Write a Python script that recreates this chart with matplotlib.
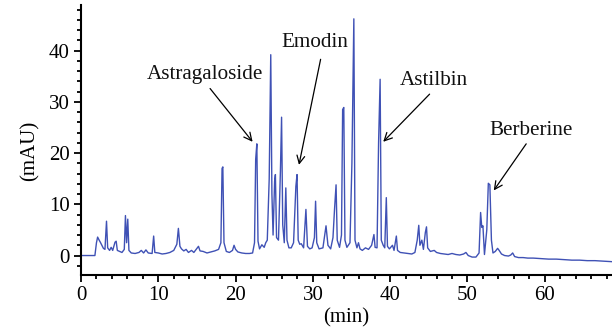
import matplotlib
matplotlib.use("Agg")
import matplotlib.pyplot as plt
from matplotlib.ticker import MultipleLocator

# Chromatogram trace: retention time (min) and signal (mAU)
time_min = [
    0, 1.8, 2.0, 2.15, 2.35, 2.5, 2.7, 2.9, 3.1, 3.3, 3.45, 3.7, 3.9, 4.1, 4.4, 4.55, 4.7,
    5.0, 5.3, 5.6, 5.75, 5.9, 6.05, 6.2, 6.5, 7.0, 7.5, 7.8, 8.1, 8.4, 8.7, 9.2, 9.4, 9.55,
    10.0, 10.5, 11.0, 11.5, 12.0, 12.4, 12.6, 12.8, 13.0, 13.3, 13.6, 13.9, 14.3, 14.6,
    15.2, 15.4, 15.8, 16.3, 16.8, 17.3, 17.8, 18.1, 18.25, 18.35, 18.5, 18.8, 19.2, 19.6,
    19.8, 20.0, 20.3, 20.8, 21.3, 21.8, 22.2, 22.45, 22.6, 22.75, 22.9, 23.1, 23.4, 23.7,
    23.9, 24.1, 24.35, 24.55, 24.7, 24.85, 25.05, 25.15, 25.3, 25.55, 25.8, 25.95, 26.1,
    26.3, 26.5, 26.65, 26.9, 27.2, 27.5, 27.8, 27.95, 28.1, 28.3, 28.5, 28.8, 29.1, 29.3,
    29.6, 29.9, 30.2, 30.35, 30.5, 30.8, 31.3, 31.7, 31.95, 32.3, 32.6, 32.8, 33.0, 33.15,
    33.45, 33.7, 33.85, 34.0, 34.15, 34.4, 34.8, 35.05, 35.3, 35.45, 35.7, 35.9, 36.1,
    36.4, 36.8, 37.2, 37.6, 37.9, 38.05, 38.3, 38.5, 38.7, 38.85, 39.1, 39.3, 39.5, 39.65,
    39.9, 40.3, 40.5, 40.8, 40.95, 41.3, 41.8, 42.3, 42.8, 43.2, 43.5, 43.7, 43.85, 44.1,
    44.3, 44.55, 44.7, 44.85, 45.2, 45.7, 46.0, 46.5, 47.0, 47.5, 48.0, 48.5, 49.0, 49.5,
    49.8, 50.1, 50.6, 51.1, 51.5, 51.7, 51.85, 52.0, 52.2, 52.5, 52.7, 52.9, 53.1, 53.3,
    53.6, 53.9, 54.1, 54.4, 54.8, 55.3, 55.6, 55.85, 56.1, 56.6, 57.2, 57.8, 58.5, 59.5,
    60.5, 61.5, 62.5, 63.5, 64.5, 65.5, 66.5, 67.5, 68.7,
]
signal_mau = [
    0, 0, 2.5, 3.6, 3.0, 2.6, 2.0, 1.4, 1.2, 6.7, 1.5, 1.0, 1.6, 1.0, 2.6, 2.8, 1.0,
    0.8, 0.6, 1.2, 7.8, 2.5, 7.1, 1.0, 0.5, 0.4, 0.6, 1.0, 0.5, 1.1, 0.5, 0.4, 3.8, 0.6,
    0.5, 0.3, 0.4, 0.6, 1.0, 2.2, 5.3, 1.8, 1.3, 0.9, 1.2, 0.6, 1.0, 0.6,
    1.8, 0.9, 0.8, 0.5, 0.7, 0.9, 1.2, 2.5, 17.0, 17.3, 2.5, 0.8, 0.6, 1.0,
    2.0, 1.2, 0.7, 0.5, 0.4, 0.4, 0.5, 2.5, 18.8, 21.8, 2.8, 1.3, 2.1, 1.6,
    2.5, 3.0, 15.0, 39.2, 12.0, 4.0, 14.5, 15.8, 3.5, 3.0, 16.5, 27.0, 6.0,
    2.5, 13.2, 3.0, 1.5, 1.5, 2.5, 13.5, 15.8, 3.0, 2.2, 2.3, 1.5, 9.0, 1.8,
    1.3, 1.5, 3.5, 10.6, 2.5, 1.3, 1.5, 5.8, 2.0, 1.3, 3.5, 9.0, 13.8, 3.0,
    1.6, 4.0, 28.5, 28.9, 3.0, 1.6, 2.5, 18.0, 46.2, 3.0, 1.5, 2.5, 1.3,
    1.0, 1.5, 1.2, 2.0, 4.1, 1.6, 1.5, 22.0, 34.4, 3.0, 2.0, 1.5, 11.3, 1.8,
    1.3, 2.0, 1.0, 3.8, 1.0, 0.6, 0.5, 0.4, 0.3, 0.6, 3.0, 5.9, 2.0, 3.0,
    1.2, 4.5, 5.6, 1.5, 0.8, 1.0, 0.6, 0.4, 0.3, 0.2, 0.4, 0.2, 0.1, 0.3,
    0.6, 0.0, -0.3, -0.3, 0.5, 8.4, 5.5, 5.8, 0.2, 5.0, 14.1, 13.8, 3.0, 0.5,
    0.8, 1.4, 1.0, 0.3, 0.0, -0.1, 0.1, 0.5, -0.2, -0.4, -0.4, -0.5, -0.5, -0.6,
    -0.7, -0.7, -0.8, -0.9, -0.9, -1.0, -1.0, -1.1, -1.2,
]

# Annotations: label, text position, arrow tail, arrow tip
labels = ["Astragaloside", "Emodin", "Astilbin", "Berberine"]
label_xy = [(16.0, 35.3), (30.3, 41.6), (45.7, 34.1), (58.2, 24.5)]
arrow_from = [(16.7, 32.6), (31.0, 38.3), (45.1, 31.5), (57.6, 21.8)]
arrow_to = [(22.2, 22.2), (28.2, 17.7), (39.1, 22.2), (53.4, 12.7)]

x_ticks = [0, 10, 20, 30, 40, 50, 60]
y_ticks = [0, 10, 20, 30, 40]

plt.rcParams["font.family"] = ["Liberation Serif", "DejaVu Serif"]
fig = plt.figure(figsize=(6.12, 3.33), dpi=100)
ax = fig.add_axes([81 / 612, 58 / 333, 531 / 612, 270 / 333])

ax.plot(time_min, signal_mau, color="#3f51b5", lw=1.0)

for lab, txy, a0, a1 in zip(labels, label_xy, arrow_from, arrow_to):
    ax.text(txy[0], txy[1], lab, fontsize=15.2, ha="center", va="center", color="#111111")
    ax.annotate("", xy=a1, xytext=a0,
                arrowprops=dict(arrowstyle="->", color="black", lw=0.9,
                                shrinkA=0, shrinkB=0, mutation_scale=14))

ax.set_xlim(0, 68.7)
ax.set_ylim(-3.8, 48.9)
ax.set_xticks(x_ticks)
ax.set_yticks(y_ticks)
ax.xaxis.set_minor_locator(MultipleLocator(2))
ax.yaxis.set_minor_locator(MultipleLocator(2))
ax.tick_params(which="major", direction="out", length=5, width=1.3, labelsize=15, pad=3)
ax.tick_params(which="minor", direction="out", length=3, width=1.3)
for s in ["top", "right"]:
    ax.spines[s].set_visible(False)
for s in ["left", "bottom"]:
    ax.spines[s].set_linewidth(1.5)

ax.set_xlabel("(min)", fontsize=15, labelpad=2)
ax.set_ylabel("(mAU)", fontsize=15)
ax.yaxis.set_label_coords(-0.078, 0.46)

fig.savefig("out.png", dpi=100)
